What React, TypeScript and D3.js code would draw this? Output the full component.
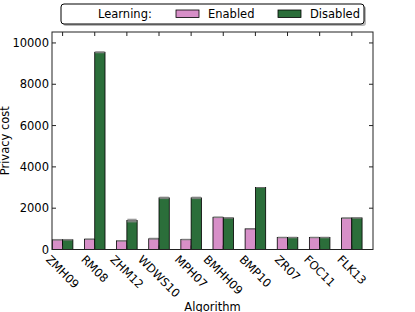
import React, { useEffect, useRef } from "react";
import * as d3 from "d3";

const algorithms = ["ZMH09", "RM08", "ZHM12", "WDWS10", "MPH07", "BMHH09", "BMP10", "ZR07", "FOC11", "FLK13"];
const enabled = [470, 500, 420, 520, 480, 1560, 1000, 580, 580, 1520];
const disabled = [470, 9550, 1400, 2500, 2500, 1530, 3000, 580, 580, 1530];
const enabledErr = [40, 30, 40, 50, 40, 40, 20, 40, 40, 40];
const disabledErr = [40, 50, 90, 60, 60, 40, 20, 40, 40, 40];
const yTicks = [0, 2000, 4000, 6000, 8000, 10000];

const W = 415;
const H = 312;
const PINK = "#d78fc8";
const GREEN = "#2b6e3a";
const FONT = "DejaVu Sans, sans-serif";

function App() {
  const ref = useRef<SVGSVGElement>(null);

  useEffect(() => {
    const svg = d3.select(ref.current);
    svg.selectAll("*").remove();

    const left = 52, right = 373, top = 32, bottom = 249.5;

    const x = d3.scaleLinear().domain([-0.33, 9.66]).range([left, right]);
    const y = d3.scaleLinear().domain([0, 10530]).range([bottom, top]);
    const bw = x(0.32) - x(0);

    const g = svg.append("g");

    const groups = g
      .selectAll("g.grp")
      .data(algorithms)
      .enter()
      .append("g");

    const series = [
      { vals: enabled, err: enabledErr, color: PINK, off: -1 },
      { vals: disabled, err: disabledErr, color: GREEN, off: 0 }
    ];

    series.forEach(s => {
      groups
        .append("rect")
        .attr("x", (d, i) => x(i) + s.off * bw)
        .attr("y", (d, i) => y(s.vals[i]))
        .attr("width", bw)
        .attr("height", (d, i) => bottom - y(s.vals[i]))
        .attr("fill", s.color)
        .attr("stroke", "#000")
        .attr("stroke-width", 0.8);
      groups
        .append("rect")
        .attr("x", (d, i) => x(i) + s.off * bw + 0.5)
        .attr("y", (d, i) => y(s.vals[i] + s.err[i]))
        .attr("width", bw - 1)
        .attr("height", (d, i) => y(s.vals[i] - s.err[i]) - y(s.vals[i] + s.err[i]))
        .attr("fill", "#888")
        .attr("opacity", 0.85);
    });

    // frame
    g.append("rect")
      .attr("x", left)
      .attr("y", top)
      .attr("width", right - left)
      .attr("height", bottom - top)
      .attr("fill", "none")
      .attr("stroke", "#222")
      .attr("stroke-width", 1);

    // ticks inward
    yTicks.forEach(t => {
      g.append("line").attr("x1", left).attr("x2", left + 4).attr("y1", y(t)).attr("y2", y(t)).attr("stroke", "#222");
      g.append("line").attr("x1", right).attr("x2", right - 4).attr("y1", y(t)).attr("y2", y(t)).attr("stroke", "#222");
      g.append("text")
        .attr("x", left - 3)
        .attr("y", y(t))
        .attr("text-anchor", "end")
        .attr("dominant-baseline", "central")
        .style("font-family", FONT)
        .style("font-size", "11.5px")
        .text(t);
    });

    algorithms.forEach((a, i) => {
      g.append("line").attr("x1", x(i)).attr("x2", x(i)).attr("y1", top).attr("y2", top + 4).attr("stroke", "#222");
      g.append("line").attr("x1", x(i)).attr("x2", x(i)).attr("y1", bottom).attr("y2", bottom - 4).attr("stroke", "#222");
      const t = g
        .append("text")
        .attr("text-anchor", "middle")
        .attr("dominant-baseline", "central")
        .style("font-family", FONT)
        .style("font-size", "11.5px")
        .text(a);
      const len = (t.node() as SVGTextElement).getComputedTextLength();
      const half = ((len + 11) * Math.SQRT1_2) / 2;
      t.attr("transform", `translate(${x(i)},${bottom + 4 + half}) rotate(45)`);
    });

    // axis labels
    g.append("text")
      .attr("x", (left + right) / 2)
      .attr("y", 311)
      .attr("text-anchor", "middle")
      .style("font-family", FONT)
      .style("font-size", "11.5px")
      .text("Algorithm");
    g.append("text")
      .attr("transform", `translate(8.5,${(top + bottom) / 2}) rotate(-90)`)
      .attr("text-anchor", "middle")
      .style("font-family", FONT)
      .style("font-size", "11.5px")
      .text("Privacy cost");

    // legend
    const lg = svg.append("g");
    lg.append("rect")
      .attr("x", 63).attr("y", 6).attr("width", 303).attr("height", 20)
      .attr("rx", 3).attr("fill", "#888").attr("opacity", 0.6);
    lg.append("rect")
      .attr("x", 61).attr("y", 4).attr("width", 303).attr("height", 20)
      .attr("rx", 3).attr("fill", "#fff").attr("stroke", "#000").attr("stroke-width", 1);
    lg.append("text")
      .attr("x", 98).attr("y", 14).attr("dominant-baseline", "central")
      .style("font-family", FONT).style("font-size", "11.5px").text("Learning:");
    const items = [
      { label: "Enabled", color: PINK, sx: 176, tx: 208 },
      { label: "Disabled", color: GREEN, sx: 278, tx: 310 }
    ];
    items.forEach(it => {
      lg.append("rect")
        .attr("x", it.sx).attr("y", 10).attr("width", 23).attr("height", 7.5)
        .attr("fill", it.color).attr("stroke", "#000").attr("stroke-width", 0.8);
      lg.append("text")
        .attr("x", it.tx).attr("y", 14).attr("dominant-baseline", "central")
        .style("font-family", FONT).style("font-size", "11.5px").text(it.label);
    });
  });

  return (
    <div style={{ position: "absolute", left: 0, top: 0 }}>
      <svg ref={ref} width={W} height={H} style={{ display: "block" }} />
    </div>
  );
}

export default App;
